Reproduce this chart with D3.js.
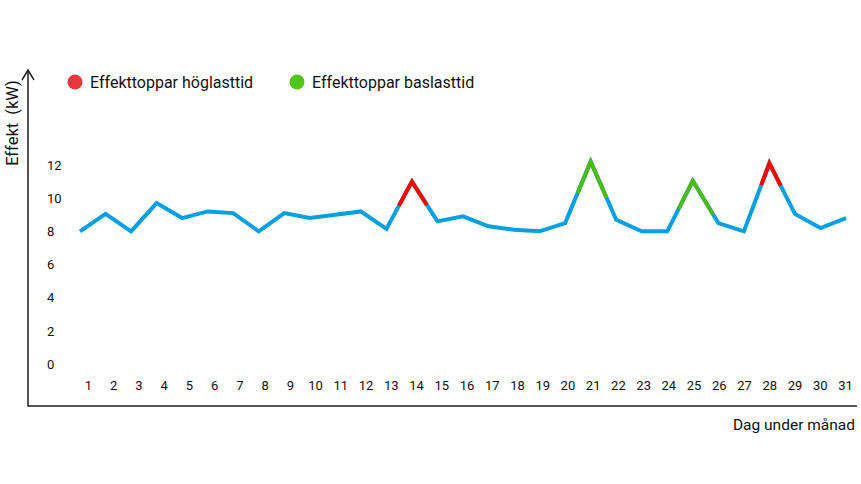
<!DOCTYPE html>
<html>
<head>
<meta charset="utf-8">
<script src="https://cdn.jsdelivr.net/npm/d3@7"></script>
<style>
  body { margin: 0; background: #fff; }
  text { font-family: Roboto, "Noto Sans", sans-serif; }
</style>
</head>
<body>
<div class="canva"></div>
<script>
// daily values (kW)
const days = d3.range(1, 32);
const values = [8.0, 9.05, 8.0, 9.7, 8.8, 9.2, 9.1, 8.0, 9.1, 8.8, 9.0, 9.2, 8.15, 11.0, 8.6, 8.9, 8.3, 8.1, 8.0, 8.5,
                12.2, 8.7, 8.0, 8.0, 11.05, 8.5, 8.0, 12.1, 9.05, 8.2, 8.8];
const yTicks = [0, 2, 4, 6, 8, 10, 12];

// peaks: day, kind, share of the neighbouring segments that is coloured
const peakDays = [14, 21, 25, 28];
const peakKind = ['hog', 'bas', 'bas', 'hog'];
const peakLeft = [0.51, 0.51, 0.55, 0.32];
const peakRight = [0.59, 0.62, 0.8, 0.44];

const legendLabels = ['Effekttoppar höglasttid', 'Effekttoppar baslasttid'];
const xTitle = 'Dag under månad';
const yTitle = 'Effekt  (kW)';

const W = 861, H = 484;
const lineColor = {hog: '#ff0000', bas: '#4cbb17'};
const dotColor = {hog: '#e8353e', bas: '#52c41a'};

const svg = d3.select('.canva').append('svg')
  .attr('width', W)
  .attr('height', H);

const x = d3.scaleLinear().domain([1, 31]).range([80, 846]);
const xLab = d3.scaleLinear().domain([1, 31]).range([88, 845]);
const y = d3.scaleLinear().domain([0, 12]).range([364, 165]);

// axis lines
svg.append('path')
  .attr('d', 'M28,70 L28,406 L857,406')
  .attr('fill', 'none')
  .attr('stroke', '#222')
  .attr('stroke-width', 1.5);
svg.append('path')
  .attr('d', 'M22,80 L28,70 L34,80')
  .attr('fill', 'none')
  .attr('stroke', '#222')
  .attr('stroke-width', 1.5);

// tick labels
const gx = svg.append('g')
  .attr('transform', 'translate(0,378)')
  .call(d3.axisBottom(xLab).tickValues(days).tickSize(0).tickFormat(d3.format('d')));
gx.select('.domain').remove();
gx.selectAll('text')
  .attr('font-family', '"Noto Sans", Roboto, sans-serif')
  .attr('font-size', 13)
  .attr('fill', '#111');

const gy = svg.append('g')
  .attr('transform', 'translate(47,0)')
  .call(d3.axisLeft(y).tickValues(yTicks).tickSize(0));
gy.select('.domain').remove();
gy.selectAll('text')
  .attr('x', 0)
  .attr('text-anchor', 'start')
  .attr('font-family', '"Noto Sans", Roboto, sans-serif')
  .attr('font-size', 13)
  .attr('fill', '#111');

// titles
svg.append('text')
  .attr('x', 855).attr('y', 430)
  .attr('text-anchor', 'end')
  .attr('font-size', 15.5)
  .attr('fill', '#111')
  .text(xTitle);
svg.append('text')
  .attr('transform', 'translate(18,123) rotate(-90)')
  .attr('text-anchor', 'middle')
  .attr('font-size', 16.5)
  .attr('fill', '#111')
  .style('white-space', 'pre')
  .text(yTitle);

// legend
const legX = [75, 297];
const leg = svg.selectAll('.leg')
  .data(legendLabels)
  .enter().append('g')
  .attr('transform', (d, i) => `translate(${legX[i]},82)`);
leg.append('circle')
  .attr('r', 7.5)
  .attr('fill', (d, i) => dotColor[i === 0 ? 'hog' : 'bas']);
leg.append('text')
  .attr('x', 15).attr('y', 6)
  .attr('font-size', 16)
  .attr('fill', '#111')
  .text(d => d);

// main line
const pts = days.map((d, i) => ({day: d, v: values[i]}));
const line = d3.line().x(d => x(d.day)).y(d => y(d.v));
svg.append('path')
  .datum(pts)
  .attr('d', line)
  .attr('fill', 'none')
  .attr('stroke', '#00a0e3')
  .attr('stroke-width', 4);

// coloured peak overlays
const peaks = peakDays.map((d, i) => {
  const k = d - 1;
  const a = pts[k - 1], p = pts[k], b = pts[k + 1];
  const lerp = (q, t) => ({day: p.day + (q.day - p.day) * t, v: p.v + (q.v - p.v) * t});
  return {kind: peakKind[i], seg: [lerp(a, peakLeft[i]), p, lerp(b, peakRight[i])]};
});
svg.selectAll('.peak')
  .data(peaks)
  .enter().append('path')
  .attr('d', d => line(d.seg))
  .attr('fill', 'none')
  .attr('stroke', d => lineColor[d.kind])
  .attr('stroke-width', 4);
</script>
</body>
</html>
